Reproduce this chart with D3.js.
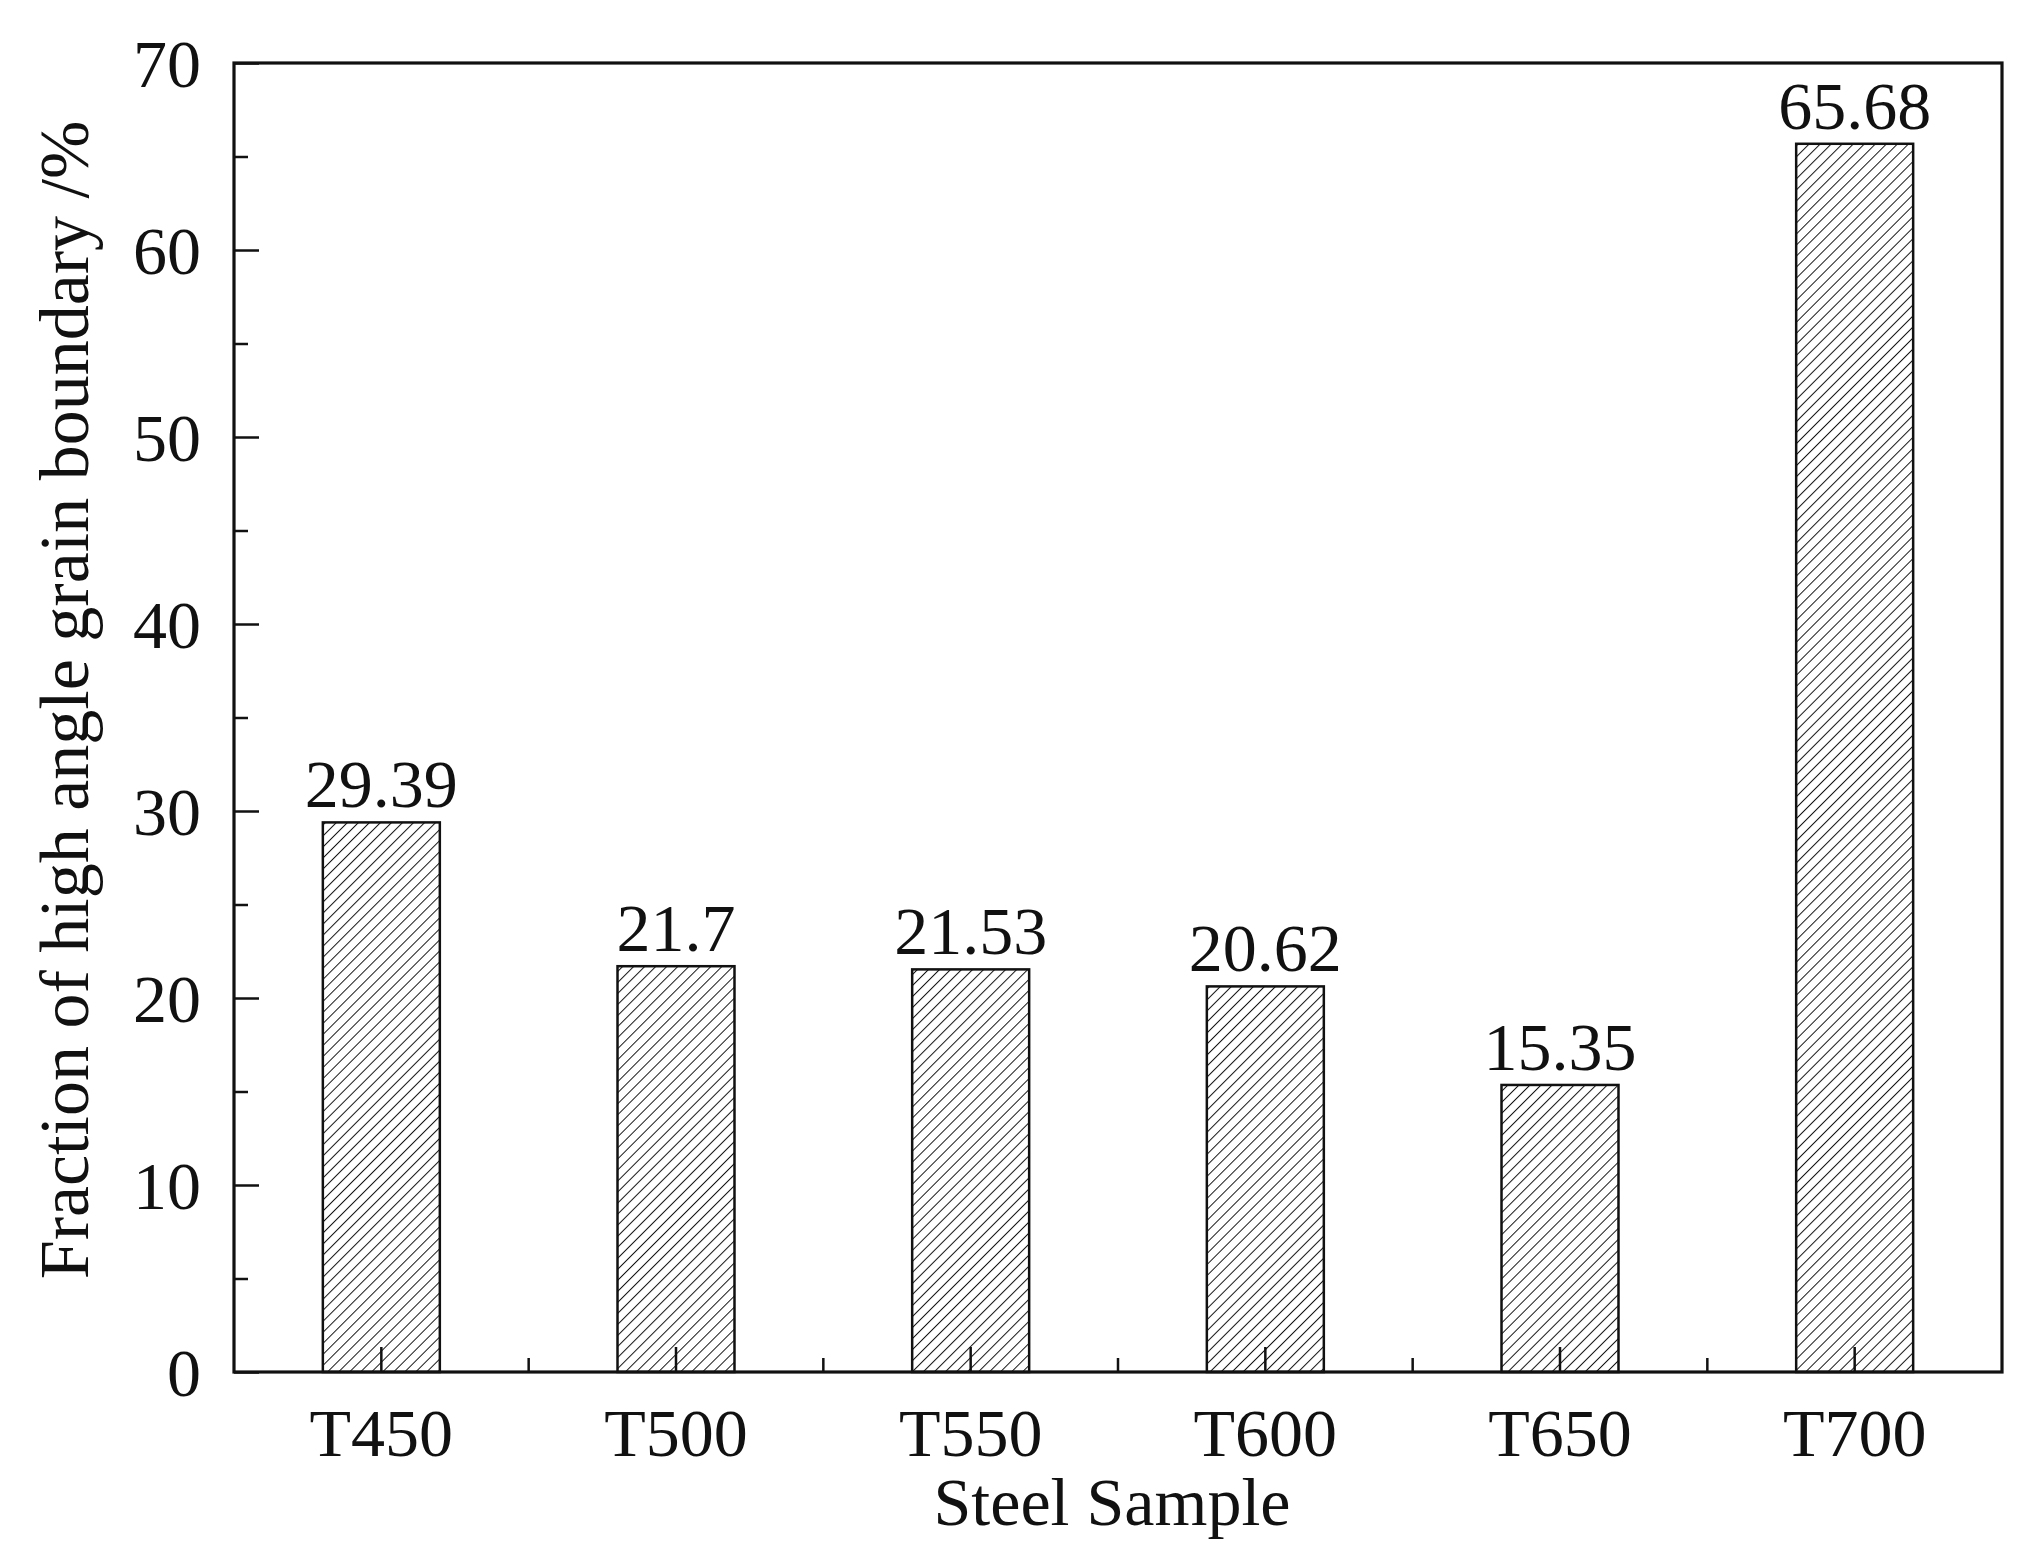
<!DOCTYPE html>
<html>
<head>
<meta charset="utf-8">
<script src="https://cdn.jsdelivr.net/npm/d3@7"></script>
<style>
  html, body { margin: 0; padding: 0; background: #fff; }
  svg { display: block; }
  text { font-family: "Liberation Serif", "Times New Roman", serif; fill: #111; }
</style>
</head>
<body>
<script>
const categories = ["T450", "T500", "T550", "T600", "T650", "T700"];
const values = [29.39, 21.7, 21.53, 20.62, 15.35, 65.68];
const valueLabels = ["29.39", "21.7", "21.53", "20.62", "15.35", "65.68"];
const yTicks = [0, 10, 20, 30, 40, 50, 60, 70];
const yMinorTicks = [5, 15, 25, 35, 45, 55, 65];
const xTitle = "Steel Sample";
const yTitle = "Fraction of high angle grain boundary /%";

(function () {
const W = 2038, H = 1554;
const pLeft = 234, pRight = 2002, pTop = 63, pBottom = 1372;

const svg = d3.select("body").append("svg")
  .attr("width", W).attr("height", H);

const defs = svg.append("defs");
const pat = defs.append("pattern")
  .attr("id", "hatch")
  .attr("patternUnits", "userSpaceOnUse")
  .attr("width", 7.8).attr("height", 7.8)
  .attr("patternTransform", "rotate(45)");
pat.append("line")
  .attr("x1", 0).attr("y1", -2).attr("x2", 0).attr("y2", 10)
  .attr("stroke", "#161616").attr("stroke-width", 2);

const x = d3.scaleBand().domain(categories).range([pLeft, pRight])
  .paddingInner(0.603).paddingOuter(0.3015);
const y = d3.scaleLinear().domain([0, 70]).range([pBottom, pTop]);
const step = x.step();

// bars
svg.append("g").selectAll("rect").data(values).join("rect")
  .attr("x", (d, i) => x(categories[i]))
  .attr("y", d => y(d))
  .attr("width", x.bandwidth())
  .attr("height", d => y(0) - y(d))
  .attr("fill", "url(#hatch)")
  .attr("stroke", "#111").attr("stroke-width", 2.5);

// value labels
svg.append("g").selectAll("text").data(values).join("text")
  .attr("x", (d, i) => x(categories[i]) + x.bandwidth() / 2)
  .attr("y", d => y(d) - 15)
  .attr("text-anchor", "middle")
  .attr("font-size", 68)
  .text((d, i) => valueLabels[i]);

// y axis
const yAxis = d3.axisLeft(y).tickValues(yTicks).tickSize(-25).tickPadding(33)
  .tickFormat(d3.format("d"));
const gy = svg.append("g").attr("transform", `translate(${pLeft},0)`).call(yAxis);
gy.select(".domain").remove();
gy.selectAll(".tick line").attr("stroke", "#111").attr("stroke-width", 2.5);
gy.selectAll(".tick text").attr("font-size", 68).attr("fill", "#111")
  .attr("font-family", "Liberation Serif, serif").attr("dy", "0.34em");

const yMinor = d3.axisLeft(y).tickValues(yMinorTicks).tickSize(-14).tickFormat("");
const gym = svg.append("g").attr("transform", `translate(${pLeft},0)`).call(yMinor);
gym.select(".domain").remove();
gym.selectAll(".tick line").attr("stroke", "#111").attr("stroke-width", 2.5);

// x axis
const xAxis = d3.axisBottom(x).tickSize(-25).tickPadding(36);
const gx = svg.append("g").attr("transform", `translate(0,${pBottom})`).call(xAxis);
gx.select(".domain").remove();
gx.selectAll(".tick line").attr("stroke", "#111").attr("stroke-width", 2.5);
gx.selectAll(".tick text").attr("font-size", 68).attr("fill", "#111")
  .attr("font-family", "Liberation Serif, serif").attr("dy", "0.71em");

// x minor ticks at category boundaries
const boundaries = categories.slice(1);
svg.append("g").selectAll("line").data(boundaries).join("line")
  .attr("x1", d => x(d) - (step - x.bandwidth()) / 2)
  .attr("x2", d => x(d) - (step - x.bandwidth()) / 2)
  .attr("y1", pBottom).attr("y2", pBottom - 14)
  .attr("stroke", "#111").attr("stroke-width", 2.5);

// frame
svg.append("rect")
  .attr("x", pLeft).attr("y", pTop)
  .attr("width", pRight - pLeft).attr("height", pBottom - pTop)
  .attr("fill", "none").attr("stroke", "#111").attr("stroke-width", 3.2);

// titles
svg.append("text")
  .attr("x", (pLeft + pRight) / 2 - 6).attr("y", 1525)
  .attr("text-anchor", "middle").attr("font-size", 68)
  .text(xTitle);

svg.append("text")
  .attr("transform", `translate(88,700) rotate(-90)`)
  .attr("text-anchor", "middle").attr("font-size", 70)
  .text(yTitle);
})();
</script>
</body>
</html>
